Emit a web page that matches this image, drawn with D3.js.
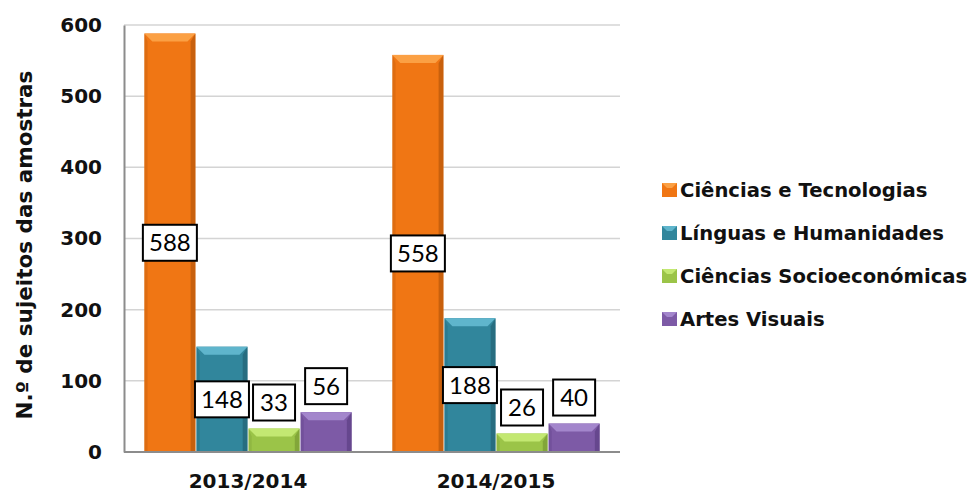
<!DOCTYPE html>
<meta charset="utf-8">
<script src="https://cdn.jsdelivr.net/npm/d3@7"></script>
<style>
  body { margin: 0; background: #fff; }
  text { font-family: "DejaVu Sans", sans-serif; }
  text.num { font-family: Lato, sans-serif; }
</style>
<body>
<div id="viz"></div>
<script>
var width = 971, height = 493;

var years = ["2013/2014", "2014/2015"];
var areas = ["Ciências e Tecnologias", "Línguas e Humanidades", "Ciências Socioeconómicas", "Artes Visuais"];
var ct = [588, 558];
var lh = [148, 188];
var cs = [33, 26];
var av = [56, 40];
var yTicks = [0, 100, 200, 300, 400, 500, 600];

var colors = ["#F07614", "#31869C", "#9BC448", "#7D5AA6"];
var light  = ["#FBA044", "#5FB5CC", "#C3E872", "#A386CC"];
var dark   = ["#A84E08", "#1F5A6A", "#6E8E2E", "#54397A"];

var series = [ct, lh, cs, av];

var pLeft = 124, pRight = 620, pTop = 25, pBottom = 452;

var x0 = d3.scaleBand().domain(years).range([pLeft, pRight]).paddingInner(0.16).paddingOuter(0.08);
var x1 = d3.scaleBand().domain(areas).range([0, x0.bandwidth()]);
var y = d3.scaleLinear().domain([0, 600]).range([pBottom, pTop]);

var svg = d3.select("#viz").append("svg")
  .attr("width", width)
  .attr("height", height);

// grid lines
svg.append("g").selectAll("line")
  .data(yTicks.slice(1))
  .enter().append("line")
  .attr("x1", pLeft).attr("x2", pRight)
  .attr("y1", function(d) { return y(d); })
  .attr("y2", function(d) { return y(d); })
  .attr("stroke", "#D4D4D4")
  .attr("stroke-width", 1.5);

// y axis
var yAxis = svg.append("g")
  .attr("transform", "translate(" + pLeft + ",0)")
  .call(d3.axisLeft(y).tickValues(yTicks).tickSize(0).tickPadding(22));
yAxis.select(".domain").attr("stroke", "#8C8C8C").attr("stroke-width", 2);
yAxis.selectAll("text")
  .style("font-size", "20px").style("font-weight", "bold").attr("fill", "#111");

// bars
var rows = [];
years.forEach(function(yr, i) {
  areas.forEach(function(a, j) {
    rows.push({ year: yr, area: a, k: j, value: series[j][i] });
  });
});

var bars = svg.append("g").selectAll("g.bar")
  .data(rows)
  .enter().append("g")
  .attr("class", "bar")
  .attr("transform", function(d) { return "translate(" + (x0(d.year) + x1(d.area)) + ",0)"; });

var bw = x1.bandwidth();
var bev = 8;

bars.append("rect")
  .attr("x", 0.5).attr("width", bw - 1)
  .attr("y", function(d) { return y(d.value); })
  .attr("height", function(d) { return pBottom - y(d.value); })
  .attr("fill", function(d) { return colors[d.k]; });

// right bevel (dark)
bars.append("polygon")
  .attr("points", function(d) {
    var t = y(d.value);
    return [[bw - 0.5, t], [bw - 0.5 - bev * 0.6, t + bev], [bw - 0.5 - bev * 0.6, pBottom], [bw - 0.5, pBottom]].join(" ");
  })
  .attr("fill", function(d) { return dark[d.k]; })
  .attr("opacity", 0.55);

// left bevel
bars.append("polygon")
  .attr("points", function(d) {
    var t = y(d.value);
    return [[0.5, t], [0.5 + bev * 0.4, t + bev], [0.5 + bev * 0.4, pBottom], [0.5, pBottom]].join(" ");
  })
  .attr("fill", function(d) { return dark[d.k]; })
  .attr("opacity", 0.25);

// top bevel (light)
bars.append("polygon")
  .attr("points", function(d) {
    var t = y(d.value);
    return [[0.5, t], [bw - 0.5, t], [bw - 0.5 - bev, t + bev], [0.5 + bev, t + bev]].join(" ");
  })
  .attr("fill", function(d) { return light[d.k]; });

// x axis line
svg.append("line")
  .attr("x1", pLeft).attr("x2", pRight)
  .attr("y1", pBottom).attr("y2", pBottom)
  .attr("stroke", "#8C8C8C").attr("stroke-width", 2);

// value labels
var boxH = 36;
var labels = bars.append("g")
  .attr("transform", function(d) {
    var t = y(d.value), h = pBottom - t;
    var cy = h > boxH + 10 ? t + h / 2 : t - 8 - boxH / 2;
    return "translate(" + bw / 2 + "," + cy + ")";
  });

labels.append("rect")
  .attr("x", function(d) { return d.value >= 100 ? -27 : -21; })
  .attr("width", function(d) { return d.value >= 100 ? 54 : 42; })
  .attr("y", -boxH / 2).attr("height", boxH)
  .attr("fill", "#fff").attr("stroke", "#000").attr("stroke-width", 2);

labels.append("text")
  .attr("class", "num")
  .attr("text-anchor", "middle")
  .attr("dy", "0.36em")
  .style("font-size", "24px")
  .attr("fill", "#000")
  .text(function(d) { return d.value; });

// x labels
svg.append("g").selectAll("text")
  .data(years)
  .enter().append("text")
  .attr("x", function(d) { return x0(d) + x0.bandwidth() / 2; })
  .attr("y", 488)
  .attr("text-anchor", "middle")
  .style("font-size", "20px").style("font-weight", "bold").attr("fill", "#111")
  .text(function(d) { return d; });

// y title
svg.append("text")
  .attr("transform", "translate(32,245) rotate(-90)")
  .attr("text-anchor", "middle")
  .style("font-size", "21.5px").style("font-weight", "bold").attr("fill", "#111")
  .text("N.º de sujeitos das amostras");

// legend
var legend = svg.append("g").selectAll("g")
  .data(areas)
  .enter().append("g")
  .attr("transform", function(d, i) { return "translate(662," + (190 + i * 43) + ")"; });

legend.append("rect")
  .attr("x", 0).attr("y", -7).attr("width", 15).attr("height", 14)
  .attr("fill", function(d, i) { return colors[i]; });
legend.append("polygon")
  .attr("points", "0,-7 15,-7 10,-2 5,-2")
  .attr("fill", function(d, i) { return light[i]; });

legend.append("text")
  .attr("x", 18).attr("dy", "0.36em")
  .style("font-size", "19.6px").style("font-weight", "bold").attr("fill", "#111")
  .text(function(d) { return d; });
</script>
</body>
